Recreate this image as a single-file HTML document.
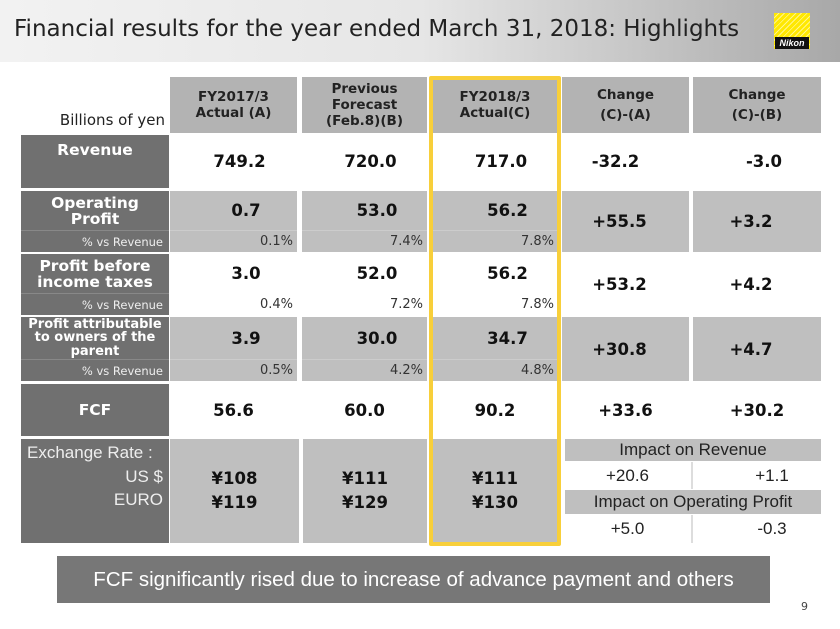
<!DOCTYPE html>
<html><head><meta charset="utf-8"><style>
*{margin:0;padding:0;box-sizing:border-box}
body{width:840px;height:629px;background:#fff;position:relative;overflow:hidden;font-family:"DejaVu Sans","Liberation Sans",sans-serif;}
.a{position:absolute;display:flex;align-items:center;justify-content:center;text-align:center}
.hd{background:#b3b3b3;font-weight:bold;font-size:13.5px;line-height:16px;color:#222}
.lb{background:#707070;color:#fff;font-weight:bold;font-size:15.5px;line-height:16px}
.g{background:#bfbfbf}
.v{font-weight:bold;font-size:16.5px;color:#111}
.p{font-size:13px;color:#333;justify-content:flex-end;padding-right:4px}
.pl{background:#707070;color:#eee;font-size:11.5px;justify-content:flex-end;padding-right:6px;border-top:1px solid #888}
.n{font-family:"Liberation Sans",sans-serif;font-size:17px;color:#222}
</style></head><body>
<div style="position:absolute;left:0;top:0;width:840px;height:62px;background:linear-gradient(90deg,#f2f2f2 0%,#e6e6e6 50%,#a8a8a8 100%)"></div>
<div style="position:absolute;left:14px;top:16px;font-size:23px;color:#222;">Financial results for the year ended March 31, 2018: Highlights</div>
<div style="position:absolute;left:774px;top:13px;width:36px;height:36px;background:repeating-linear-gradient(135deg,#ffe800 0 3px,#fff68a 3px 4px);"></div>
<div style="position:absolute;left:775px;top:37px;width:34px;height:12px;background:#111;color:#fff;font:italic bold 9px 'Liberation Sans',sans-serif;text-align:center;line-height:12px">Nikon</div>

<div class="a" style="left:20px;top:108px;width:145px;height:24px;justify-content:flex-end;font-size:15px;color:#222">Billions of yen</div>
<div class="a hd" style="left:170px;top:77px;width:127px;height:56px">FY2017/3<br>Actual (A)</div>
<div class="a hd" style="left:302px;top:77px;width:125px;height:56px">Previous<br>Forecast<br>(Feb.8)(B)</div>
<div class="a hd" style="left:432px;top:77px;width:126px;height:56px">FY2018/3<br>Actual(C)</div>
<div class="a hd" style="left:562px;top:77px;width:127px;height:56px;line-height:20px">Change<br>(C)-(A)</div>
<div class="a hd" style="left:693px;top:77px;width:128px;height:56px;line-height:20px">Change<br>(C)-(B)</div>

<!-- Revenue -->
<div class="a lb" style="left:21px;top:135px;width:148px;height:53px;align-items:flex-start;padding-top:7px">Revenue</div>
<div class="a v" style="left:170px;top:135px;width:127px;height:53px;padding-left:12px">749.2</div>
<div class="a v" style="left:302px;top:135px;width:125px;height:53px;padding-left:12px">720.0</div>
<div class="a v" style="left:432px;top:135px;width:126px;height:53px;padding-left:12px">717.0</div>
<div class="a v" style="left:562px;top:135px;width:127px;height:53px;padding-right:20px">-32.2</div>
<div class="a v" style="left:693px;top:135px;width:128px;height:53px;padding-left:14px">-3.0</div>

<!-- OP -->
<div class="a lb" style="left:21px;top:191px;width:148px;height:39px">Operating<br>Profit</div>
<div class="a pl" style="left:21px;top:230px;width:148px;height:22px">% vs Revenue</div>
<div class="a g v" style="left:170px;top:191px;width:127px;height:39px;padding-left:25px">0.7</div>
<div class="a g v" style="left:302px;top:191px;width:125px;height:39px;padding-left:25px">53.0</div>
<div class="a g v" style="left:432px;top:191px;width:126px;height:39px;padding-left:25px">56.2</div>
<div class="a g p" style="left:170px;top:230px;width:127px;height:22px;border-top:1px solid #ccc">0.1%</div>
<div class="a g p" style="left:302px;top:230px;width:125px;height:22px;border-top:1px solid #ccc">7.4%</div>
<div class="a g p" style="left:432px;top:230px;width:126px;height:22px;border-top:1px solid #ccc">7.8%</div>
<div class="a g v" style="left:562px;top:191px;width:127px;height:61px;padding-right:12px">+55.5</div>
<div class="a g v" style="left:693px;top:191px;width:128px;height:61px;padding-right:12px">+3.2</div>

<!-- PBIT -->
<div class="a lb" style="left:21px;top:254px;width:148px;height:39px">Profit before<br>income taxes</div>
<div class="a pl" style="left:21px;top:293px;width:148px;height:22px">% vs Revenue</div>
<div class="a v" style="left:170px;top:254px;width:127px;height:39px;padding-left:25px">3.0</div>
<div class="a v" style="left:302px;top:254px;width:125px;height:39px;padding-left:25px">52.0</div>
<div class="a v" style="left:432px;top:254px;width:126px;height:39px;padding-left:25px">56.2</div>
<div class="a p" style="left:170px;top:293px;width:127px;height:22px">0.4%</div>
<div class="a p" style="left:302px;top:293px;width:125px;height:22px">7.2%</div>
<div class="a p" style="left:432px;top:293px;width:126px;height:22px">7.8%</div>
<div class="a v" style="left:562px;top:254px;width:127px;height:61px;padding-right:12px">+53.2</div>
<div class="a v" style="left:693px;top:254px;width:128px;height:61px;padding-right:12px">+4.2</div>

<!-- PAT -->
<div class="a lb" style="left:21px;top:317px;width:148px;height:42px;font-size:13px;line-height:13.5px">Profit attributable<br>to owners of the<br>parent</div>
<div class="a pl" style="left:21px;top:359px;width:148px;height:22px">% vs Revenue</div>
<div class="a g v" style="left:170px;top:317px;width:127px;height:42px;padding-left:25px">3.9</div>
<div class="a g v" style="left:302px;top:317px;width:125px;height:42px;padding-left:25px">30.0</div>
<div class="a g v" style="left:432px;top:317px;width:126px;height:42px;padding-left:25px">34.7</div>
<div class="a g p" style="left:170px;top:359px;width:127px;height:22px;border-top:1px solid #ccc">0.5%</div>
<div class="a g p" style="left:302px;top:359px;width:125px;height:22px;border-top:1px solid #ccc">4.2%</div>
<div class="a g p" style="left:432px;top:359px;width:126px;height:22px;border-top:1px solid #ccc">4.8%</div>
<div class="a g v" style="left:562px;top:317px;width:127px;height:64px;padding-right:12px">+30.8</div>
<div class="a g v" style="left:693px;top:317px;width:128px;height:64px;padding-right:12px">+4.7</div>

<!-- FCF -->
<div class="a lb" style="left:21px;top:384px;width:148px;height:52px">FCF</div>
<div class="a v" style="left:170px;top:384px;width:127px;height:52px">56.6</div>
<div class="a v" style="left:302px;top:384px;width:125px;height:52px">60.0</div>
<div class="a v" style="left:432px;top:384px;width:126px;height:52px">90.2</div>
<div class="a v" style="left:562px;top:384px;width:127px;height:52px">+33.6</div>
<div class="a v" style="left:693px;top:384px;width:128px;height:52px">+30.2</div>

<!-- Exchange -->
<div style="position:absolute;left:21px;top:439px;width:148px;height:104px;background:#707070"></div>
<div class="n" style="position:absolute;left:27px;top:443px;color:#eee">Exchange Rate :</div>
<div class="n" style="position:absolute;left:21px;top:467px;width:142px;text-align:right;color:#eee">US $</div>
<div class="n" style="position:absolute;left:21px;top:490px;width:142px;text-align:right;color:#eee">EURO</div>
<div class="a g v" style="left:170px;top:439px;width:129px;height:104px;line-height:24px">¥108<br>¥119</div>
<div class="a g v" style="left:303px;top:439px;width:124px;height:104px;line-height:24px">¥111<br>¥129</div>
<div class="a g v" style="left:432px;top:439px;width:126px;height:104px;line-height:24px">¥111<br>¥130</div>
<div class="a g n" style="left:565px;top:439px;width:256px;height:22px">Impact on Revenue</div>
<div class="a n" style="left:565px;top:462px;width:125px;height:27px">+20.6</div>
<div style="position:absolute;left:691px;top:462px;width:2px;height:27px;background:#ddd"></div>
<div class="a n" style="left:693px;top:462px;width:128px;height:27px;padding-left:30px">+1.1</div>
<div class="a g n" style="left:565px;top:490px;width:256px;height:24px">Impact on Operating Profit</div>
<div class="a n" style="left:565px;top:515px;width:125px;height:28px">+5.0</div>
<div style="position:absolute;left:691px;top:515px;width:2px;height:28px;background:#ddd"></div>
<div class="a n" style="left:693px;top:515px;width:128px;height:28px;padding-left:30px">-0.3</div>

<div style="position:absolute;left:429px;top:76px;width:132px;height:470px;border:4px solid #f8cf3a;border-radius:2px"></div>

<div class="a" style="left:57px;top:556px;width:713px;height:47px;background:#777;color:#fff;font-family:'Liberation Sans',sans-serif;font-size:20.5px">FCF significantly rised due to increase of advance payment and others</div>
<div style="position:absolute;left:801px;top:600px;font-size:11px;color:#444">9</div>
</body></html>
